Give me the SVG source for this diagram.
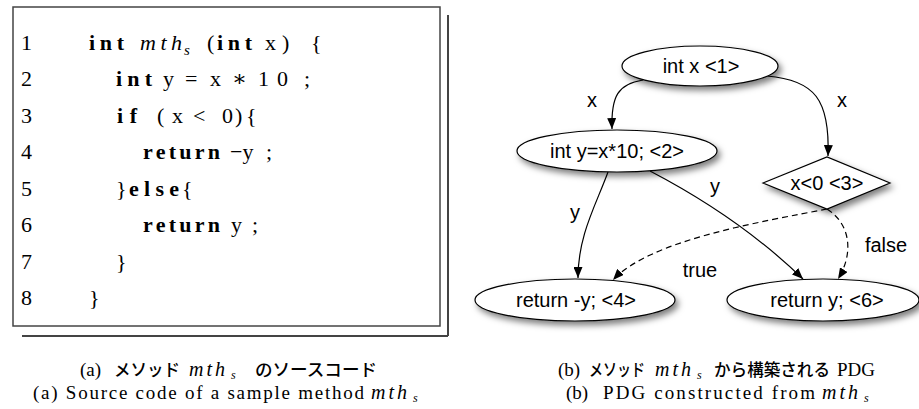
<svg xmlns="http://www.w3.org/2000/svg" width="919" height="409" viewBox="0 0 919 409">
<style>
.code{font-family:"Liberation Serif","DejaVu Serif",serif;font-size:22px;fill:#000}
.kw{font-weight:bold}
.it{font-style:italic}
.sub{font-family:"Liberation Serif",serif;font-style:italic;font-size:15px}
.cap{font-family:"Liberation Serif","DejaVu Serif",serif;font-size:19px;fill:#000}
.cmi{font-family:"Liberation Serif","DejaVu Serif",serif;font-size:20px;font-style:italic;fill:#000}
.csub{font-family:"Liberation Serif",serif;font-style:italic;font-size:12px}
.jp{font-family:"Noto Sans CJK JP",sans-serif;font-size:17px;font-weight:500;fill:#000}
.lbl{font-family:"Liberation Sans",Arial,sans-serif;font-size:20px;fill:#000;text-anchor:middle}
.shape{fill:#fff;stroke:#000;stroke-width:1.2;filter:url(#sh)}
.edge{fill:none;stroke:#000;stroke-width:1.2;marker-end:url(#arr)}
.dash{stroke-dasharray:6 4}
.frame{fill:none;stroke:#444;stroke-width:1.5}
.frame2{fill:none;stroke:#444;stroke-width:2}
</style>
<defs>
<filter id="sh" x="-20%" y="-30%" width="150%" height="180%">
<feDropShadow dx="3" dy="4" stdDeviation="3" flood-color="#000" flood-opacity="0.5"/>
</filter>
<marker id="arr" markerUnits="userSpaceOnUse" markerWidth="11" markerHeight="9" refX="11" refY="4.5" orient="auto">
<path d="M0,0 L11,4.5 L0,9 Z" fill="#000"/>
</marker>
</defs>
<rect width="919" height="409" fill="#fff"/>

<g id="codebox">
<rect class="frame" x="13" y="7" width="427" height="319"/>
<path class="frame2" d="M448,15 V336 M22,336 H448"/>
<g class="code">
<text x="21" y="50">1</text>
<text x="89" y="50" class="kw" textLength="35" lengthAdjust="spacing">int</text>
<text x="140" y="50" class="it" textLength="42" lengthAdjust="spacing">mth</text>
<text x="184" y="55" class="sub">s</text>
<text x="207" y="50">(</text>
<text x="217" y="50" class="kw" textLength="35" lengthAdjust="spacing">int</text>
<text x="265" y="50">x</text>
<text x="282" y="50">)</text>
<text x="311" y="50">{</text>

<text x="21" y="86">2</text>
<text x="116" y="86" class="kw" textLength="36" lengthAdjust="spacing">int</text>
<text x="163" y="86">y</text>
<text x="185" y="86">=</text>
<text x="210" y="86">x</text>
<text x="232" y="86">∗</text>
<text x="258" y="86" textLength="30" lengthAdjust="spacing">10</text>
<text x="304" y="86">;</text>

<text x="21" y="123">3</text>
<text x="117" y="123" class="kw" textLength="20" lengthAdjust="spacing">if</text>
<text x="157" y="123">(</text>
<text x="172" y="123">x</text>
<text x="193" y="123">&lt;</text>
<text x="222" y="123">0</text>
<text x="235" y="123">)</text>
<text x="246" y="123">{</text>

<text x="21" y="159">4</text>
<text x="143" y="159" class="kw" textLength="77" lengthAdjust="spacing">return</text>
<text x="230" y="159">−y</text>
<text x="266" y="159">;</text>

<text x="21" y="196">5</text>
<text x="116" y="196">}</text>
<text x="129" y="196" class="kw" textLength="50" lengthAdjust="spacing">else</text>
<text x="182" y="196">{</text>

<text x="21" y="232">6</text>
<text x="143" y="232" class="kw" textLength="77" lengthAdjust="spacing">return</text>
<text x="231" y="232">y</text>
<text x="252" y="232">;</text>

<text x="21" y="269">7</text>
<text x="116" y="269">}</text>

<text x="21" y="305">8</text>
<text x="89" y="305">}</text>
</g>
</g>

<g id="connectors">
<path class="edge" d="M643,80 C618,84 611,96 612,129"/>
<path class="edge" d="M767,76 C815,80 830,100 828,156"/>
<path class="edge" d="M608,172 C596,205 578,235 578,278"/>
<path class="edge" d="M650,171 Q740,218 803,279"/>
<path class="edge dash" d="M827,209 C760,222 650,240 613,280"/>
<path class="edge dash" d="M827,209 C852,225 853,255 838,279"/>
<text class="lbl" x="592" y="107">x</text>
<text class="lbl" x="842" y="107">x</text>
<text class="lbl" x="715" y="193">y</text>
<text class="lbl" x="575" y="219">y</text>
<text class="lbl" x="700" y="277">true</text>
<text class="lbl" x="886" y="252">false</text>
</g>

<g id="n1">
<ellipse class="shape" cx="700" cy="66" rx="78" ry="20"/>
<text class="lbl" x="701" y="73">int x &lt;1&gt;</text>
</g>
<g id="n2">
<ellipse class="shape" cx="617" cy="151" rx="100" ry="21"/>
<text class="lbl" x="617" y="158">int y=x*10; &lt;2&gt;</text>
</g>
<g id="n3">
<polygon class="shape" points="763,183 827,157 890,183 827,209"/>
<text class="lbl" x="827" y="190">x&lt;0 &lt;3&gt;</text>
</g>
<g id="n4">
<ellipse class="shape" cx="575" cy="300" rx="100" ry="21"/>
<text class="lbl" x="576" y="307">return -y; &lt;4&gt;</text>
</g>
<g id="n6">
<ellipse class="shape" cx="823" cy="300" rx="96" ry="21"/>
<text class="lbl" x="827" y="307">return y; &lt;6&gt;</text>
</g>

<g id="caption-a">
<text class="cap" x="80" y="376">(a)</text>
<text class="jp" x="114" y="376" textLength="66" lengthAdjust="spacingAndGlyphs">メソッド</text>
<text class="cmi" x="189" y="376" textLength="36" lengthAdjust="spacing">mth</text>
<text class="csub" x="231" y="379">s</text>
<text class="jp" x="255" y="376" textLength="122" lengthAdjust="spacingAndGlyphs">のソースコード</text>
<text class="cap" x="33" y="399" textLength="331" lengthAdjust="spacing">(a) Source code of a sample method</text>
<text class="cmi" x="371" y="399" textLength="36" lengthAdjust="spacing">mth</text>
<text class="csub" x="413" y="402">s</text>
</g>
<g id="caption-b">
<text class="cap" x="558" y="376">(b)</text>
<text class="jp" x="589" y="376" textLength="56" lengthAdjust="spacingAndGlyphs">メソッド</text>
<text class="cmi" x="655" y="376" textLength="36" lengthAdjust="spacing">mth</text>
<text class="csub" x="697" y="379">s</text>
<text class="jp" x="714" y="376" textLength="116" lengthAdjust="spacingAndGlyphs">から構築される</text>
<text class="cap" x="837" y="376">PDG</text>
<text class="cap" x="566" y="399">(b)</text>
<text class="cap" x="603" y="399" textLength="212" lengthAdjust="spacing">PDG constructed from</text>
<text class="cmi" x="822" y="399" textLength="36" lengthAdjust="spacing">mth</text>
<text class="csub" x="864" y="402">s</text>
</g>
</svg>
